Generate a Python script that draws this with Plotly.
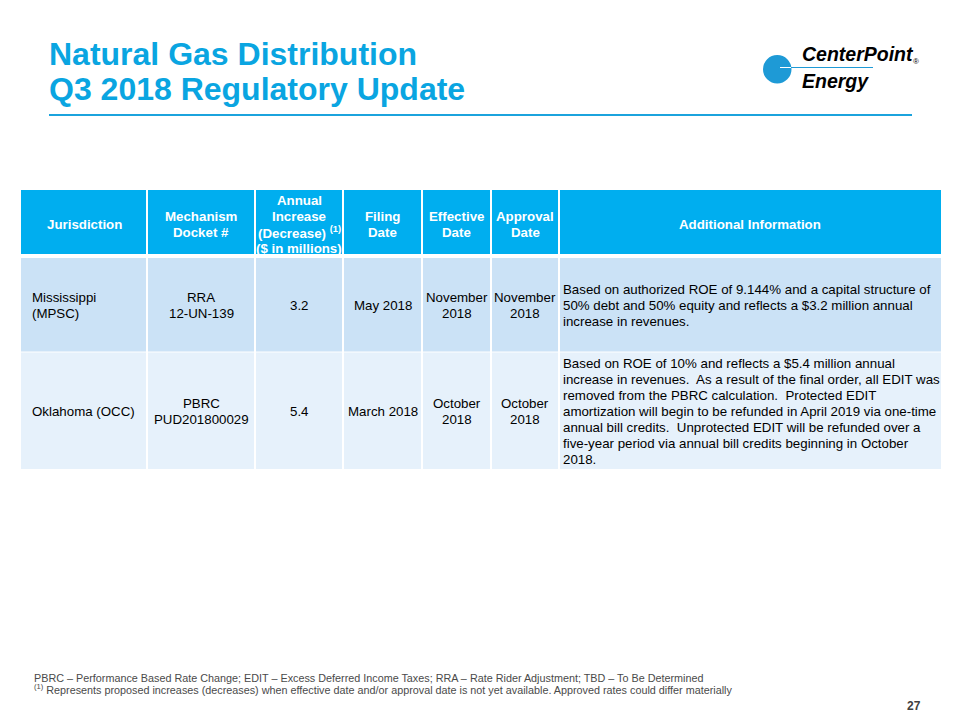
import plotly.graph_objects as go

# ---------------- data ----------------
title_lines = ["Natural Gas Distribution", "Q3 2018 Regulatory Update"]
headers = [
    ["Jurisdiction"],
    ["Mechanism", "Docket #"],
    ["Annual", "Increase", "(Decrease) <sup>(1)</sup>", "($ in millions)"],
    ["Filing", "Date"],
    ["Effective", "Date"],
    ["Approval", "Date"],
    ["Additional Information"],
]
jurisdictions = [["Mississippi", "(MPSC)"], ["Oklahoma (OCC)"]]
mechanisms = [["RRA", "12-UN-139"], ["PBRC", "PUD201800029"]]
annual_change = [3.2, 5.4]
filing_dates = [["May 2018"], ["March 2018"]]
effective_dates = [["November", "2018"], ["October", "2018"]]
approval_dates = [["November", "2018"], ["October", "2018"]]
additional_info = [
    ["Based on authorized ROE of 9.144% and a capital structure of",
     "50% debt and 50% equity and reflects a $3.2 million annual",
     "increase in revenues."],
    ["Based on ROE of 10% and reflects a $5.4 million annual",
     "increase in revenues.  As a result of the final order, all EDIT was",
     "removed from the PBRC calculation.  Protected EDIT",
     "amortization will begin to be refunded in April 2019 via one-time",
     "annual bill credits.  Unprotected EDIT will be refunded over a",
     "five-year period via annual bill credits beginning in October",
     "2018."],
]
footnotes = [
    "PBRC \u2013 Performance Based Rate Change; EDIT \u2013 Excess Deferred Income Taxes; "
    "RRA \u2013 Rate Rider Adjustment; TBD \u2013 To Be Determined",
    "<sup>(1)</sup> Represents proposed increases (decreases) when effective date and/or "
    "approval date is not yet available. Approved rates could differ materially",
]
logo_words = ["CenterPoint", "Energy"]
page_number = "27"

# ---------------- layout constants ----------------
W, H = 960, 720
OFF = 8  # page body margin: the figure starts 8px into the page
FONT = "Liberation Sans, Arial, sans-serif"
BLUE = "#00AEEF"
TITLE_BLUE = "#0AA5E1"
ROW_BG = ["#CBE2F6", "#E6F1FB"]
col_edges = [21, 147, 255, 343, 422, 491, 559, 941]
col_align = ["left", "center", "center", "center", "center", "center", "left"]
col_pad = [9, 0, 0, 0, 0, 0, 2]
header_top, header_bot = 190, 254
row_tops = [258, 352.5]
row_bots = [351.5, 469]
LINE_H = 16

fig = go.Figure()
shapes = []
annotations = []


def add_lines(lines, x, yc, xanchor, size, color, bold=False, spacing=LINE_H,
              family=FONT):
    n = len(lines)
    for i, ln in enumerate(lines):
        y = yc + (i - (n - 1) / 2) * spacing
        txt = f"<b>{ln}</b>" if bold else ln
        annotations.append(dict(
            x=x, y=y, xref="x", yref="y", text=txt, showarrow=False,
            xanchor=xanchor, yanchor="middle",
            font=dict(family=family, size=size, color=color)))


# title
for i, t in enumerate(title_lines):
    annotations.append(dict(
        x=47, y=54 + i * 35, xref="x", yref="y", text=f"<b>{t}</b>",
        showarrow=False, xanchor="left", yanchor="middle",
        font=dict(family=FONT, size=32, color=TITLE_BLUE)))
shapes.append(dict(type="line", x0=49, x1=912, y0=115, y1=115, xref="x", yref="y",
                   line=dict(color="#1BA3DD", width=2)))

# logo
shapes.append(dict(type="circle", x0=763, x1=791.5, y0=55, y1=83.5, xref="x", yref="y",
                   fillcolor="#1E9AD6", line=dict(width=0)))
shapes.append(dict(type="line", x0=780, x1=791, y0=67.5, y1=67.5, xref="x", yref="y",
                   line=dict(color="white", width=1)))
shapes.append(dict(type="line", x0=791, x1=873, y0=67.5, y1=67.5, xref="x", yref="y",
                   line=dict(color="#1E9AD6", width=1)))
for i, wd in enumerate(logo_words):
    annotations.append(dict(x=800, y=53.5 + i * 27, xref="x", yref="y",
                            text=f"<b><i>{wd}</i></b>", showarrow=False,
                            xanchor="left", yanchor="middle",
                            font=dict(family=FONT, size=19.5, color="black")))
annotations.append(dict(x=916, y=61, xref="x", yref="y", text="\u00ae", showarrow=False,
                        xanchor="center", yanchor="middle",
                        font=dict(family=FONT, size=8, color="black")))

# table header background
shapes.append(dict(type="rect", x0=col_edges[0], x1=col_edges[-1], y0=header_top,
                   y1=header_bot, xref="x", yref="y", fillcolor=BLUE, line=dict(width=0),
                   layer="below"))
# row backgrounds
for r in range(len(jurisdictions)):
    shapes.append(dict(type="rect", x0=col_edges[0], x1=col_edges[-1], y0=row_tops[r],
                       y1=row_bots[r], xref="x", yref="y", fillcolor=ROW_BG[r],
                       line=dict(width=0), layer="below"))
# column separators
for xe in col_edges[1:-1]:
    shapes.append(dict(type="line", x0=xe, x1=xe, y0=header_top, y1=row_bots[-1],
                       xref="x", yref="y", line=dict(color="white", width=2)))

# header text
header_yc = 224.3
for c, lines in enumerate(headers):
    xc = (col_edges[c] + col_edges[c + 1]) / 2
    add_lines(lines, xc, header_yc, "center", 13.3, "white", bold=True, spacing=15.8)

# body text
rows = list(zip(jurisdictions, mechanisms, annual_change, filing_dates,
                effective_dates, approval_dates, additional_info))
for r, row in enumerate(rows):
    yc = (row_tops[r] + row_bots[r]) / 2 + 0.5
    for c, cell in enumerate(row):
        lines = [f"{cell:.1f}"] if isinstance(cell, float) else cell
        if col_align[c] == "left":
            x = col_edges[c] + col_pad[c]
            xa = "left"
        else:
            x = (col_edges[c] + col_edges[c + 1]) / 2
            xa = "center"
        add_lines(lines, x, yc, xa, 13.3, "black")

# footnotes
for i, fn in enumerate(footnotes):
    annotations.append(dict(x=32, y=677.5 + i * 11, xref="x", yref="y", text=fn,
                            showarrow=False, xanchor="left", yanchor="middle",
                            font=dict(family=FONT, size=10.8, color="#4A4A4A")))
annotations.append(dict(x=923, y=706, xref="x", yref="y", text=f"<b>{page_number}</b>",
                        showarrow=False, xanchor="right", yanchor="middle",
                        font=dict(family=FONT, size=12, color="#404040")))

fig.update_layout(
    width=W - OFF, height=H - OFF, margin=dict(l=0, r=0, t=0, b=0),
    paper_bgcolor="white", plot_bgcolor="white",
    xaxis=dict(range=[OFF, W], visible=False, fixedrange=True),
    yaxis=dict(range=[H, OFF], visible=False, fixedrange=True),
    shapes=shapes, annotations=annotations, showlegend=False,
)
fig.write_html("out.html")
